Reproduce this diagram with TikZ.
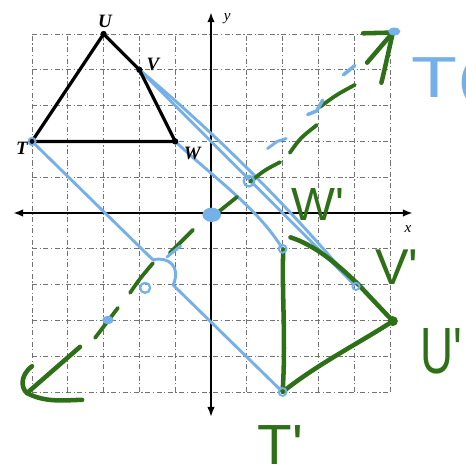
\documentclass[tikz,border=0pt]{standalone}
\usepackage{fontspec}
\setmainfont{Liberation Serif}
\newfontfamily\handfont{Liberation Sans}
\usetikzlibrary{arrows.meta,calc}
\definecolor{hgreen}{RGB}{46,112,24}
\definecolor{hblue}{RGB}{118,176,232}
\begin{document}
\begin{tikzpicture}[x=1cm,y=1cm,
  gridline/.style={black!55, line width=0.7pt, dash pattern=on 4pt off 2pt on 1pt off 2pt},
  axisline/.style={black, line width=1.7pt, {Latex[length=8pt,width=6pt]}-{Latex[length=8pt,width=6pt]}},
  origshape/.style={black, line width=2.6pt, line join=round},
  vdot/.style={circle, fill=black, inner sep=0pt, minimum size=5pt},
  bluepath/.style={hblue, line width=2.3pt, line cap=round, line join=round},
  greenpath/.style={hgreen, line width=3.6pt, line cap=round, line join=round},
  greendash/.style={hgreen, line width=3pt, line cap=round},
  ptlabel/.style={font=\bfseries\itshape\fontsize{15}{15}\selectfont, inner sep=0pt},
  axlabel/.style={font=\itshape\fontsize{12}{12}\selectfont, inner sep=0pt},
  handlabel/.style={hgreen, inner sep=0pt, anchor=base west, text depth=0pt},
]
\useasboundingbox (-5.894,-7.263) rectangle (7.123,5.950);

% grid
\foreach \i in {-5,...,5} {
  \draw[gridline] (\i,-5) -- (\i,5);
  \draw[gridline] (-5,\i) -- (5,\i);
}

% axes
\coordinate (xl) at (-5.53,0);
\coordinate (xr) at (5.64,0);
\coordinate (yt) at (0,5.61);
\coordinate (yb) at (0,-5.70);
\draw[axisline] (xl) -- (xr);
\draw[axisline] (yb) -- (yt);
\node[axlabel] (xlab) at (5.5,-0.45) {x};
\node[axlabel] (ylab) at (0.45,5.42) {y};

% original figure
\coordinate (T) at (-5,2);
\coordinate (U) at (-3,5);
\coordinate (V) at (-2,4);
\coordinate (W) at (-1,2);
\coordinate (Tp) at (2,-5);
\coordinate (Up) at (5.08,-3.02);
\coordinate (Vp) at (4,-2);
\coordinate (Wp) at (2,-1);

% blue connectors
\draw[bluepath] (T) -- (-1.62,-1.31) .. controls (-1.2,-1.2) and (-0.82,-1.5) .. (-1.06,-2.01) -- (Tp);
\draw[bluepath] (V) -- (Vp);
\draw[bluepath] (V) .. controls (0.2,2.15) and (2.15,0.2) .. (Vp);
\draw[bluepath] (W) .. controls (0.0,1.05) and (1.3,0.15) .. (Wp);

\draw[origshape] (T) -- (U) -- (V) -- (W) -- cycle;
\foreach \p in {T,U,V,W} { \node[vdot] (dot\p) at (\p) {}; }
\node[ptlabel] (lT) at (-5.28,1.80) {T};
\node[ptlabel] (lU) at (-2.96,5.36) {U};
\node[ptlabel] (lV) at (-1.62,4.15) {V};
\node[ptlabel] (lW) at (-0.52,1.66) {W};

% green dashed line y = x
\draw[greendash] (-3.24,-3.49) -- (-2.6,-2.65);
\draw[greendash] (-2.26,-2.23) .. controls (-2.0,-1.85) .. (-1.62,-1.40);
\draw[greendash] (-1.15,-1.12) -- (-0.5,-0.47);
\draw[greendash] (0.17,0.0) .. controls (0.45,0.25) .. (0.73,0.45);
\draw[greendash] (1.09,0.87) .. controls (1.5,1.2) .. (1.93,1.42);
\draw[greendash] (2.2,1.68) .. controls (2.5,2.1) .. (2.96,2.46);
\draw[greendash] (3.04,2.96) .. controls (3.5,3.3) .. (4.02,3.58);
\coordinate (gtipR) at (5.08,5.04);
\coordinate (gtipL) at (-5.14,-5.03);
\draw[greenpath] (4.36,4.2) -- (gtipR);
\draw[greenpath] (4.25,5.02) -- (gtipR) .. controls (4.98,4.6) and (4.85,4.0) .. (4.76,3.64);
\draw[greenpath] (-3.66,-3.74) -- (gtipL);
\draw[greenpath] (-5.0,-4.28) .. controls (-5.35,-4.55) and (-5.3,-4.9) .. (gtipL) .. controls (-4.6,-5.32) and (-4.0,-5.22) .. (-3.6,-5.22);

% blue marks on y = x
\fill[hblue] (-2.88,-2.99) ellipse (0.16 and 0.12);
\draw[bluepath, line width=1.8pt] (-1.84,-2.09) circle (0.14);
\draw[bluepath] (-1.23,-1.23) -- (-0.85,-0.92);
\fill[hblue] (0.02,-0.05) ellipse (0.26 and 0.2);
\draw[bluepath, line width=1.8pt] (1.06,0.89) circle (0.15);
\draw[bluepath] (1.58,1.8) -- (1.85,2.0) -- (2.1,2.08);
\draw[bluepath, line width=2.8pt] (2.7,2.75) -- (2.95,2.85) -- (3.12,3.15);
\draw[bluepath, line width=2.8pt] (3.7,3.86) -- (4.02,4.12);
\fill[hblue] (5.12,5.07) ellipse (0.17 and 0.11);

% image figure
\draw[greenpath] (2.22,-0.68) .. controls (2.9,-0.9) and (3.5,-1.4) .. (4.1,-1.98) -- (Up)
  .. controls (4.2,-3.6) and (3.0,-4.2) .. (Tp) .. controls (2.1,-3.5) and (1.97,-2.2) .. (2.02,-1.02);
\fill[hgreen] (Up) circle (0.14);
\draw[hblue, line width=1.5pt] (Wp) circle (0.11);
\draw[hblue, line width=1.5pt] (Tp) circle (0.11);
\draw[hblue, line width=1.5pt] (4.05,-2.05) circle (0.1);
\draw[hblue, line width=1.5pt] (T) circle (0.1);

% handwritten labels
\node[handlabel, font=\handfont\fontsize{37}{37}\selectfont] (lWp) at (2.25,-0.2) {W'};
\node[handlabel, font=\handfont\fontsize{40}{40}\selectfont] (lVp) at (4.58,-2.01) {V'};
\node[handlabel, font=\handfont\fontsize{52}{52}\selectfont] (lUp) at (5.85,-4.47) {\scalebox{0.7}[1]{U'}};
\node[handlabel, font=\handfont\fontsize{45}{45}\selectfont] (lTp) at (1.3,-7.02) {T'};
\node[handlabel, text=hblue, font=\handfont\fontsize{46}{46}\selectfont] (rule) at (5.6,3.24) {\scalebox{1.3}[1]{T(}};
\end{tikzpicture}
\end{document}
